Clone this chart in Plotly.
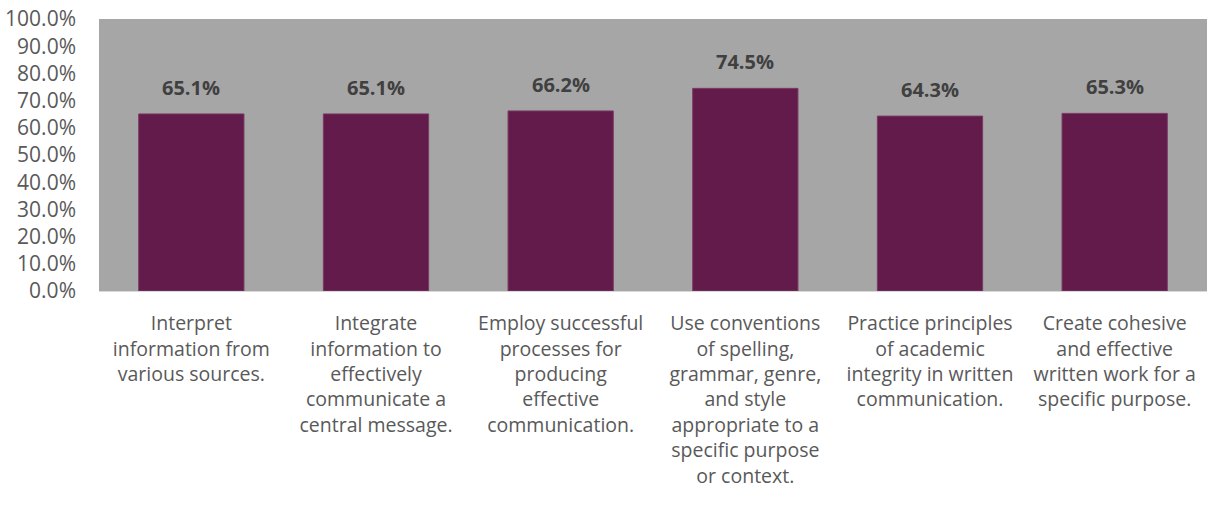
import plotly.graph_objects as go

categories = [
    "Interpret<br>information from<br>various sources.",
    "Integrate<br>information to<br>effectively<br>communicate a<br>central message.",
    "Employ successful<br>processes for<br>producing<br>effective<br>communication.",
    "Use conventions<br>of spelling,<br>grammar, genre,<br>and style<br>appropriate to a<br>specific purpose<br>or context.",
    "Practice principles<br>of academic<br>integrity in written<br>communication.",
    "Create cohesive<br>and effective<br>written work for a<br>specific purpose.",
]
values = [0.651, 0.651, 0.662, 0.745, 0.643, 0.653]
labels = ["65.1%", "65.1%", "66.2%", "74.5%", "64.3%", "65.3%"]
yticks = [i / 10 for i in range(11)]
yticklabels = [f"{v*100:.1f}%" for v in yticks]

FONT = "Open Sans"

fig = go.Figure()
fig.add_trace(go.Bar(
    x=list(range(len(categories))),
    y=values,
    marker=dict(color="#621B4A", line=dict(color="#7A3A63", width=1)),
    width=0.57,
    hoverinfo="skip",
))

for i, (v, t) in enumerate(zip(values, labels)):
    fig.add_annotation(
        x=i, y=v, text=f"<b>{t}</b>", showarrow=False,
        yanchor="bottom", yshift=11,
        font=dict(family=FONT, size=20, color="#404040"),
    )

fig.update_layout(
    width=1209, height=510,
    margin=dict(l=99, r=2, t=19, b=219),
    paper_bgcolor="white",
    plot_bgcolor="#A6A6A6",
    showlegend=False,
    bargap=0.43,
    font=dict(family=FONT, size=19, color="#595959"),
)
fig.update_xaxes(
    tickmode="array",
    tickvals=list(range(len(categories))),
    ticktext=categories,
    range=[-0.5, len(categories) - 0.5],
    showgrid=False,
    showline=True, linecolor="#D9D9D9", linewidth=1,
    ticks="",
    tickangle=0,
    ticklabelstandoff=15,
    tickfont=dict(family=FONT, size=19.5, color="#595959"),
)
fig.update_yaxes(
    range=[0, 1],
    tickmode="array",
    tickvals=yticks,
    ticktext=yticklabels,
    showgrid=False,
    zeroline=False,
    ticks="",
    ticklabelstandoff=22,
    tickfont=dict(family=FONT, size=21, color="#595959"),
)

fig.write_html("out.html")
